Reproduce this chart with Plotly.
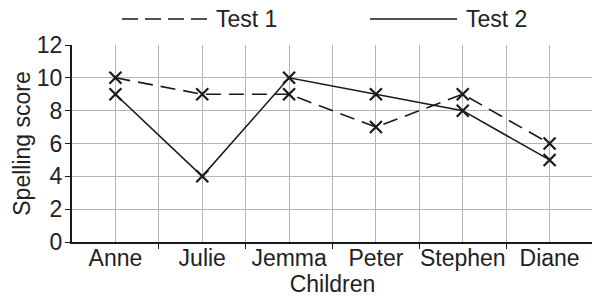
import plotly.graph_objects as go

children = ["Anne", "Julie", "Jemma", "Peter", "Stephen", "Diane"]
test1 = [10, 9, 9, 7, 9, 6]
test2 = [9, 4, 10, 9, 8, 5]
y_ticks = [0, 2, 4, 6, 8, 10, 12]

FONT = "Liberation Sans, Arial, sans-serif"
FS = 23
xpos = list(range(len(children)))

fig = go.Figure()
fig.add_trace(go.Scatter(
    x=xpos, y=test1, mode="lines+markers", name="Test 1",
    line=dict(color="#1a1a1a", width=1.6, dash="15px,8px"),
    marker=dict(symbol="x-thin", size=12, line=dict(color="#1a1a1a", width=2.2)),
))
fig.add_trace(go.Scatter(
    x=xpos, y=test2, mode="lines+markers", name="Test 2",
    line=dict(color="#1a1a1a", width=1.6),
    marker=dict(symbol="x-thin", size=12, line=dict(color="#1a1a1a", width=2.2)),
))

half = [i + 0.5 for i in range(len(children))]

# the page body has an 8px margin, so the figure is sized/offset to fill the window
PW = 521
PH = 197
fig.update_layout(
    width=592, height=294,
    margin=dict(l=64, r=7, t=37, b=60, autoexpand=False),
    paper_bgcolor="white", plot_bgcolor="white",
    showlegend=False,
    font=dict(family=FONT, size=FS, color="#222"),
    xaxis=dict(
        range=[-0.5, len(children) - 0.5],
        tickvals=xpos, ticktext=children,
        ticks="", showgrid=True, gridcolor="#b5b5b5", gridwidth=1,
        showline=True, linecolor="#1a1a1a", linewidth=2,
        tickfont=dict(size=FS), automargin=False, ticklabelstandoff=-6,
        minor=dict(tickvals=half, ticks="outside", ticklen=5, tickcolor="#1a1a1a",
                   tickwidth=1, showgrid=True, gridcolor="#b5b5b5", gridwidth=1),
        title=dict(text="Children", font=dict(size=FS), standoff=3),
        zeroline=False,
    ),
    yaxis=dict(
        range=[0, 12], tickvals=y_ticks,
        ticks="outside", ticklen=5, tickcolor="#1a1a1a", tickwidth=1,
        showgrid=True, gridcolor="#b5b5b5", gridwidth=1,
        showline=True, linecolor="#1a1a1a", linewidth=2,
        tickfont=dict(size=FS), automargin=False, ticklabelstandoff=-2,
        title=dict(text="Spelling score", font=dict(size=FS), standoff=0),
        zeroline=False,
    ),
)

# legend drawn manually (long line samples as in the reference)
LY = 1 + 26 / PH
fig.add_shape(type="line", xref="paper", yref="paper", x0=(122 - 72) / PW, x1=(207 - 72) / PW,
              y0=LY, y1=LY, line=dict(color="#1a1a1a", width=1.6, dash="16px,7px"))
fig.add_shape(type="line", xref="paper", yref="paper", x0=(370 - 72) / PW, x1=(457 - 72) / PW,
              y0=LY, y1=LY, line=dict(color="#1a1a1a", width=1.6))
fig.add_annotation(text="Test 1", xref="paper", yref="paper", x=(214 - 72) / PW, y=LY,
                   xanchor="left", yanchor="middle", showarrow=False, font=dict(size=FS))
fig.add_annotation(text="Test 2", xref="paper", yref="paper", x=(464 - 72) / PW, y=LY,
                   xanchor="left", yanchor="middle", showarrow=False, font=dict(size=FS))

fig.write_html("out.html")
